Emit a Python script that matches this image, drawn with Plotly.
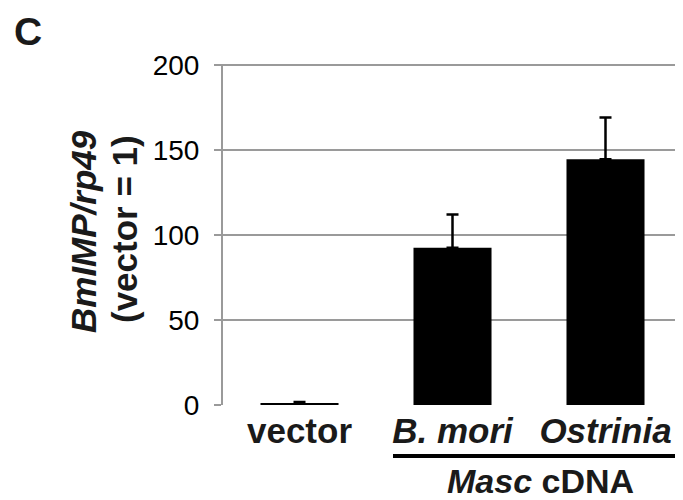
import plotly.graph_objects as go

categories = ["vector", "B. mori", "Ostrinia"]
tick_labels = ["<b>vector</b>", "<b><i>B. mori</i></b>", "<b><i>Ostrinia</i></b>"]
values = [1.0, 92.5, 144.5]
errors_up = [0.8, 19.5, 24.7]
errors_down = [0, 0, 0]
y_ticks = [0, 50, 100, 150, 200]

FONT = "Liberation Sans, Arial, Helvetica, sans-serif"
GRAY = "#9a9a9a"

# page has an 8px body margin; the figure is sized to fill the rest of the window
OFF = 8
W, H = 683 - OFF, 500 - OFF
L, R, T, B = 223 - OFF, 1, 64 - OFF, 95
pw, ph = W - L - R, H - T - B

def px(x):
    return (x - OFF - L) / pw

def py(y):
    return (H - B - (y - OFF)) / ph

fig = go.Figure()
fig.add_trace(go.Bar(
    x=categories, y=values, width=0.51,
    marker=dict(color="black", line=dict(width=0)),
    error_y=dict(type="data", array=errors_up, arrayminus=errors_down,
                 symmetric=False, color="black", thickness=2.5, width=6),
))

fig.update_layout(
    width=W, height=H,
    margin=dict(l=L, r=R, t=T, b=B, pad=0),
    plot_bgcolor="white", paper_bgcolor="white",
    showlegend=False,
    font=dict(family=FONT, color="black"),
    bargap=0.49,
    xaxis=dict(
        tickmode="array", tickvals=categories, ticktext=tick_labels,
        tickfont=dict(size=35, family=FONT, color="#1a1a1a"),
        showline=False, ticks="", showgrid=False,
        range=[-0.5, 2.5], ticklabelstandoff=2,
    ),
    yaxis=dict(
        range=[0, 200.6], tickvals=y_ticks,
        tickfont=dict(size=28, family=FONT, color="black"),
        showline=True, linecolor=GRAY, linewidth=2,
        showgrid=True, gridcolor=GRAY, gridwidth=2,
        ticks="outside", ticklen=7, tickcolor=GRAY, tickwidth=2,
        zeroline=False, ticklabelstandoff=9,
    ),
    annotations=[
        dict(text="<b>C</b>", x=px(28), y=py(31), xref="paper", yref="paper",
             xanchor="center", yanchor="middle", showarrow=False,
             font=dict(size=39, family=FONT, color="#1a1a1a")),
        dict(text="<b><i>BmIMP/rp49</i></b>",
             x=px(83), y=py(232), xref="paper", yref="paper",
             xanchor="center", yanchor="middle", showarrow=False, textangle=-90,
             font=dict(size=35, family=FONT, color="#1a1a1a")),
        dict(text="<b>(vector = 1)</b>",
             x=px(124), y=py(229), xref="paper", yref="paper",
             xanchor="center", yanchor="middle", showarrow=False, textangle=-90,
             font=dict(size=35, family=FONT, color="#1a1a1a")),
        dict(text="<b><i>Masc</i> cDNA</b>", x=px(540), y=py(481), xref="paper", yref="paper",
             xanchor="center", yanchor="middle", showarrow=False,
             font=dict(size=34, family=FONT, color="#1a1a1a")),
    ],
    shapes=[
        dict(type="line", xref="paper", yref="paper",
             x0=px(393), x1=px(683), y0=py(456), y1=py(456),
             line=dict(color="black", width=4)),
    ],
)

fig.write_html("out.html")
